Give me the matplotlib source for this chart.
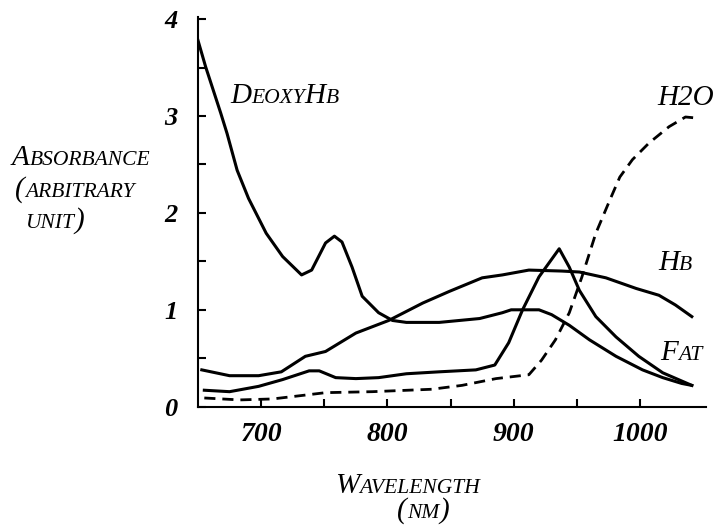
import matplotlib
matplotlib.use("Agg")
import matplotlib.pyplot as plt
from matplotlib.ticker import FixedLocator

# ---- data ----
deoxy_wl = [650, 656, 668, 673, 681, 690, 704, 717, 732, 740, 751, 758, 764, 772, 780,
            793, 804, 815, 841, 873, 891, 898, 920, 930, 944, 960, 981, 1002, 1018, 1033, 1041]
deoxy_abs = [3.78, 3.51, 3.03, 2.82, 2.44, 2.15, 1.79, 1.55, 1.36, 1.41, 1.69, 1.76, 1.70, 1.44, 1.14,
             0.97, 0.89, 0.87, 0.87, 0.91, 0.97, 1.00, 1.00, 0.95, 0.84, 0.69, 0.52, 0.38, 0.30, 0.24, 0.22]

hb_wl = [653, 675, 698, 716, 735, 751, 775, 801, 828, 849, 875, 891, 912, 938, 952, 973,
         997, 1015, 1028, 1041]
hb_abs = [0.38, 0.32, 0.32, 0.36, 0.52, 0.57, 0.76, 0.89, 1.07, 1.19, 1.33, 1.36, 1.41, 1.40,
          1.39, 1.33, 1.22, 1.15, 1.05, 0.93]

fat_wl = [655, 675, 698, 717, 738, 746, 759, 775, 793, 815, 841, 870, 885, 896, 907, 920,
          936, 944, 952, 965, 981, 999, 1018, 1041]
fat_abs = [0.17, 0.155, 0.21, 0.28, 0.37, 0.37, 0.30, 0.29, 0.30, 0.34, 0.36, 0.38, 0.43, 0.66,
           1.00, 1.34, 1.63, 1.44, 1.20, 0.93, 0.72, 0.52, 0.35, 0.22]

h2o_wl = [655, 683, 709, 735, 751, 788, 835, 859, 886, 912, 922, 933, 944, 954, 965, 976,
          984, 994, 1007, 1023, 1036, 1044]
h2o_abs = [0.09, 0.07, 0.08, 0.12, 0.145, 0.155, 0.18, 0.22, 0.29, 0.33, 0.48, 0.69, 0.97, 1.34,
           1.79, 2.13, 2.37, 2.55, 2.72, 2.89, 2.99, 2.98]

x_ticks = [700, 800, 900, 1000]
y_ticks = [0, 1, 2, 3, 4]

FONT = "Liberation Serif"
BIG, SMALL = 21, 15.5

W, H = 725, 532
fig = plt.figure(figsize=(W / 100, H / 100), dpi=100)
ax = fig.add_axes([198 / W, 1 - 406.7 / H, (705.7 - 198) / W, (406.7 - 16.7) / H])

for wl, a in [(deoxy_wl, deoxy_abs), (hb_wl, hb_abs), (fat_wl, fat_abs)]:
    ax.plot(wl, a, color="black", lw=2.2, solid_joinstyle="round")
ax.plot(h2o_wl, h2o_abs, color="black", lw=2.0, dashes=(4, 2.5))

ax.set_xlim(650, 1052)
ax.set_ylim(0, 4.025)
ax.spines[["top", "right"]].set_visible(False)
ax.spines[["left", "bottom"]].set_linewidth(1.5)

ax.set_xticks(x_ticks)
ax.set_yticks(y_ticks)
ax.xaxis.set_minor_locator(FixedLocator([750, 850, 950]))
ax.yaxis.set_minor_locator(FixedLocator([0.5, 1.5, 2.5, 3.5]))
ax.tick_params(which="both", direction="in", length=6, width=1.5)
ax.tick_params(axis="x", pad=11)
ax.tick_params(axis="y", pad=15)
for lab in ax.get_xticklabels():
    lab.set(family=FONT, style="italic", weight="bold", fontsize=20)
for lab in ax.get_yticklabels():
    lab.set(family=FONT, style="italic", weight="bold", fontsize=19)

renderer = fig.canvas.get_renderer()


# small caps: big first letters, smaller rest, all on one baseline (pixel coords)
def small_caps(x_px, y_px, parts):
    x = x_px
    for txt, big in parts:
        t = fig.text(x / W, 1 - y_px / H, txt, fontsize=BIG if big else SMALL,
                     family=FONT, style="italic", va="baseline", ha="left")
        x = t.get_window_extent(renderer).x1


small_caps(12, 165, [("A", True), ("BSORBANCE", False)])
small_caps(15, 197, [("(", True), ("ARBITRARY", False)])
small_caps(25, 228, [("UNIT", False), (")", True)])
small_caps(335, 493, [("W", True), ("AVELENGTH", False)])
small_caps(397, 518, [("(", True), ("NM", False), (")", True)])

small_caps(230, 103, [("D", True), ("EOXY", False), ("H", True), ("B", False)])
small_caps(657, 105, [("H2O", True)])
small_caps(658, 270, [("H", True), ("B", False)])
small_caps(660, 360, [("F", True), ("AT", False)])

fig.savefig("out.png", dpi=100)
